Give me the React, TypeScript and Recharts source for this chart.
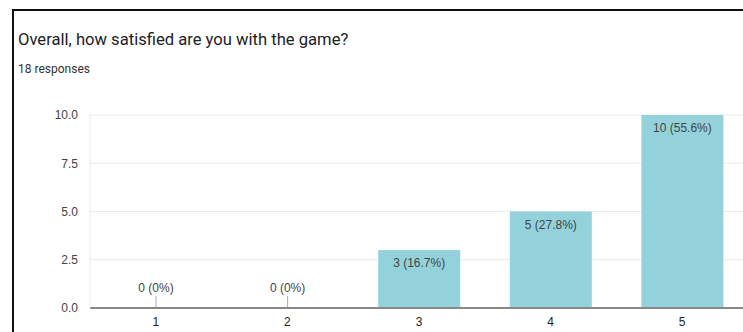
import { BarChart, Bar, XAxis, YAxis, CartesianGrid } from 'recharts';

const ratings = ['1', '2', '3', '4', '5'];
const responses = [0, 0, 3, 5, 10];
const yTicks = [0, 2.5, 5, 7.5, 10];

const total = responses.reduce((a, b) => a + b, 0);
const data = ratings.map((rating, i) => ({ rating, count: responses[i] }));

const fmtPct = (v: number) => {
    const p = Math.round((v / total) * 1000) / 10;
    return `${v} (${p}%)`;
};

const labelFont = "Arial, 'Liberation Sans', sans-serif";

// bar plus its value label; zero bars get a little stem and the label above the axis
const BarShape = (props: any) => {
    const { x, y, width, height, payload, fill } = props;
    const value = payload.count;
    const cx = x + width / 2;
    if (!value) {
        return (
            <g>
                <line x1={cx} x2={cx} y1={y - 12} y2={y} stroke="#aaa" strokeWidth={1} />
                <text x={cx} y={y - 16} textAnchor="middle" fontSize={12} fill="#444" fontFamily={labelFont}>
                    {fmtPct(value)}
                </text>
            </g>
        );
    }
    return (
        <g>
            <rect x={x} y={y} width={width} height={height} fill={fill} />
            <text x={cx} y={y + 17} textAnchor="middle" fontSize={12} fill="#444" fontFamily={labelFont}>
                {fmtPct(value)}
            </text>
        </g>
    );
};

export default function App() {
    return (
        <div style={{ position: 'fixed', left: 0, top: 0, width: 743, height: 332, overflow: 'hidden', background: '#fff' }}>
            <div
                style={{
                    position: 'absolute',
                    left: 12,
                    top: 9,
                    width: 800,
                    height: 400,
                    borderTop: '2px solid #111',
                    borderLeft: '2px solid #111',
                }}
            />
            <div style={{ position: 'absolute', left: 18, top: 30, fontSize: 16.6, color: '#202124', fontFamily: "Roboto, 'Open Sans', sans-serif" }}>
                Overall, how satisfied are you with the game?
            </div>
            <div style={{ position: 'absolute', left: 18, top: 62, fontSize: 12, color: '#333', fontFamily: "Roboto, Arial, sans-serif" }}>
                18 responses
            </div>
            <div style={{ position: 'absolute', left: 0, top: 0 }}>
                <BarChart width={748} height={340} data={data} margin={{ top: 115, right: 0, left: 0, bottom: 0 }} barCategoryGap="19%">
                    <CartesianGrid vertical={false} stroke="#ebebeb" />
                    <XAxis
                        dataKey="rating"
                        tickLine={false}
                        tickSize={0}
                        tickMargin={9}
                        axisLine={{ stroke: '#888', strokeWidth: 2 }}
                        tick={{ fill: '#222', fontSize: 12, fontFamily: 'Arial, sans-serif' }}
                        height={32}
                    />
                    <YAxis
                        width={90}
                        domain={[0, 10]}
                        ticks={yTicks}
                        tickFormatter={(v) => Number(v).toFixed(1)}
                        tickLine={false}
                        tickSize={0}
                        tickMargin={12}
                        axisLine={{ stroke: '#ececec' }}
                        tick={{ fill: '#444', fontSize: 12, fontFamily: 'Arial, sans-serif' }}
                    />
                    <Bar dataKey="count" fill="#93d2db" isAnimationActive={false} shape={BarShape} />
                </BarChart>
            </div>
        </div>
    );
}
